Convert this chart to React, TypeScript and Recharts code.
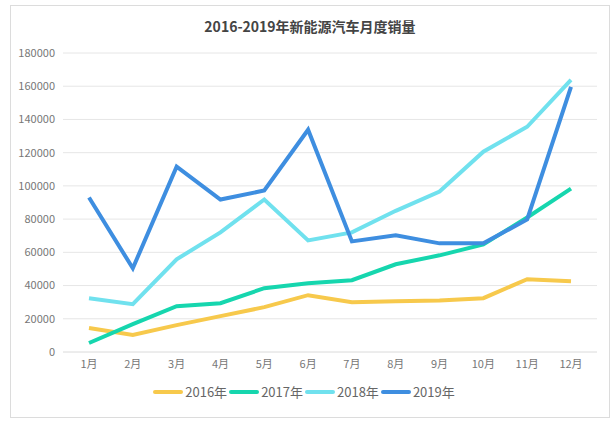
import { LineChart, Line, XAxis, YAxis, CartesianGrid, Legend } from 'recharts';

const months = ['1月', '2月', '3月', '4月', '5月', '6月', '7月', '8月', '9月', '10月', '11月', '12月'];
const sales2016 = [14400, 10200, 16200, 21600, 27000, 34200, 30000, 30600, 31000, 32400, 43800, 42600];
const sales2017 = [5400, 16800, 27600, 29400, 38400, 41400, 43200, 52800, 58200, 64800, 81000, 98400];
const sales2018 = [32400, 28800, 55800, 72000, 91800, 67200, 72000, 85000, 96600, 120600, 135600, 163800];
const sales2019 = [93000, 50400, 111600, 91800, 97200, 133800, 66600, 70200, 65400, 65400, 79800, 159600];
const yTicks = [0, 20000, 40000, 60000, 80000, 100000, 120000, 140000, 160000, 180000];

const series = [
  { key: 'y2016', name: '2016年', color: '#f7c94c' },
  { key: 'y2017', name: '2017年', color: '#16d6ae' },
  { key: 'y2018', name: '2018年', color: '#70e1ee' },
  { key: 'y2019', name: '2019年', color: '#3e8ee0' },
];

const data = months.map((m, i) => ({
  month: m,
  y2016: sales2016[i],
  y2017: sales2017[i],
  y2018: sales2018[i],
  y2019: sales2019[i],
}));

const font = '"Noto Sans CJK SC", "Noto Sans", sans-serif';

function LegendContent() {
  return (
    <div style={{ display: 'flex', justifyContent: 'center', alignItems: 'center', fontFamily: font, fontSize: 13, color: '#666' }}>
      {series.map((s) => (
        <div key={s.key} style={{ display: 'flex', alignItems: 'center' }}>
          <span style={{ display: 'inline-block', width: 30, height: 4, borderRadius: 2, background: s.color, marginRight: 2 }} />
          <span style={{ marginRight: 2 }}>{s.name}</span>
        </div>
      ))}
    </div>
  );
}

export default function App() {
  return (
    <div style={{ position: 'absolute', left: 10, top: 5, width: 600, height: 413, border: '1px solid #dcdcdc', background: '#fff', boxSizing: 'border-box' }}>
      <div style={{ position: 'absolute', top: 10, width: '100%', textAlign: 'center', fontFamily: font, fontSize: 14, fontWeight: 'bold', color: '#444' }}>
        2016-2019年新能源汽车月度销量
      </div>
      <LineChart width={598} height={411} data={data} margin={{ top: 47, right: 12, left: 2, bottom: 0 }}>
        <CartesianGrid vertical={false} stroke="#e6e6e6" />
        <XAxis dataKey="month" axisLine={{ stroke: '#e6e6e6' }} tickLine={false} height={30} padding={{ left: 26, right: 26 }} tick={{ fill: '#777', fontSize: 11, fontFamily: font }} />
        <YAxis domain={[0, 180000]} ticks={yTicks} axisLine={false} tickLine={false} width={50} tick={{ fill: '#777', fontSize: 11, fontFamily: font }} />
        <Legend verticalAlign="bottom" height={35} content={<LegendContent />} />
        {series.map((s) => (
          <Line key={s.key} type="linear" dataKey={s.key} name={s.name} stroke={s.color} strokeWidth={4} dot={false} isAnimationActive={false} />
        ))}
      </LineChart>
    </div>
  );
}
